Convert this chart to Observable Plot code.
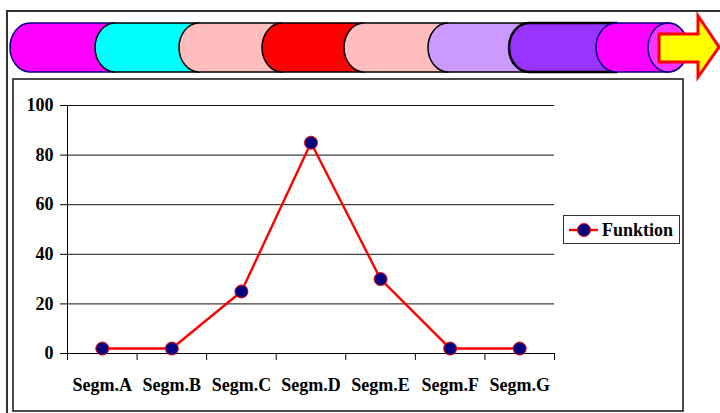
<!DOCTYPE html>
<html>
<head>
<meta charset="utf-8">
<script src="https://cdn.jsdelivr.net/npm/d3@7"></script>
<script src="https://cdn.jsdelivr.net/npm/@observablehq/plot@0.6"></script>
<style>
  html, body { margin: 0; padding: 0; background: #fff; }
  #chart svg { display: block; }
</style>
</head>
<body>
<div id="chart"></div>
<script>
const categories = ["Segm.A", "Segm.B", "Segm.C", "Segm.D", "Segm.E", "Segm.F", "Segm.G"];
const values = [2, 2, 25, 85, 30, 2, 2];
const seriesName = "Funktion";
const yTicks = [0, 20, 40, 60, 80, 100];
const bandColors = ["#FF00FF", "#00FFFF", "#FFBDBD", "#FF0000", "#FFBDBD", "#CC99FF", "#9933FF", "#FF00FF"];

const data = categories.map((c, i) => ({cat: c, idx: i + 0.5, value: values[i]}));
const font = "'Liberation Serif', 'Times New Roman', serif";

const plot = Plot.plot({
  width: 720,
  height: 413,
  marginTop: 105,
  marginBottom: 60,
  marginLeft: 67,
  marginRight: 166,
  style: {fontFamily: font, fontSize: "18px", fontWeight: "bold", background: "#fff", color: "#000"},
  x: {type: "linear", domain: [0, categories.length]},
  y: {domain: [0, 100]},
  marks: [
    Plot.gridY(yTicks.filter(d => d > 0), {stroke: "#111", strokeOpacity: 1, strokeWidth: 1}),
    Plot.ruleX([0], {stroke: "#000", strokeWidth: 1}),
    Plot.ruleY([0], {stroke: "#000", strokeWidth: 1}),
    Plot.axisY({ticks: yTicks, tickSize: 7, tickPadding: 7, fontSize: 18, fontWeight: "bold", label: null, stroke: "#000"}),
    Plot.axisX({ticks: d3.range(0, categories.length + 1), tickSize: 7, tickFormat: () => "", label: null, stroke: "#000"}),
    Plot.axisX({ticks: data.map(d => d.idx), tickSize: 0, tickPadding: 25, tickFormat: v => categories[Math.round(v - 0.5)], fontSize: 18, fontWeight: "bold", label: null}),
    Plot.lineY(data, {x: "idx", y: "value", stroke: "#FF0000", strokeWidth: 2.4}),
    Plot.dot(data, {x: "idx", y: "value", r: 6.5, fill: "#000080", stroke: "#FF0000", strokeWidth: 1})
  ]
});

document.getElementById("chart").appendChild(plot);

const svg = d3.select(plot);
const deco = svg.insert("g", ":first-child");

// frames
deco.append("rect").attr("x", 7).attr("y", 11).attr("width", 800).attr("height", 500)
  .attr("fill", "none").attr("stroke", "#333").attr("stroke-width", 2);
deco.append("rect").attr("x", 13).attr("y", 79).attr("width", 670).attr("height", 332)
  .attr("fill", "none").attr("stroke", "#111").attr("stroke-width", 1.5);

// cylinder band
const starts = [10, 95, 179, 262, 344, 428, 509, 596];
const bandTop = 23, bandBot = 72, rx = 20, ry = (bandBot - bandTop) / 2;
const strokes = ["#000080", "#000", "#000", "#000", "#000", "#000", "#000", "#000080"];
const swidths = [1.5, 1.5, 1.5, 1.5, 1.5, 1.5, 2.5, 1.5];
starts.forEach((s, i) => {
  const last = i === starts.length - 1;
  const end = last ? 668 : starts[i + 1] + rx;
  let p = `M${s + rx},${bandTop} L${end},${bandTop} `;
  if (last) p += `A${rx},${ry} 0 0 1 ${end},${bandBot} `;
  else p += `L${end},${bandBot} `;
  p += `L${s + rx},${bandBot} A${rx},${ry} 0 0 1 ${s + rx},${bandTop} Z`;
  deco.append("path").attr("d", p).attr("fill", bandColors[i])
    .attr("stroke", strokes[i]).attr("stroke-width", swidths[i]);
});
// end cap
deco.append("ellipse").attr("cx", 668).attr("cy", (bandTop + bandBot) / 2).attr("rx", rx).attr("ry", ry)
  .attr("fill", "#FF33FF").attr("stroke", "#000080").attr("stroke-width", 1.5);
// arrow
deco.append("path")
  .attr("d", "M659,34 L698,34 L698,16 L719,47 L698,77 L698,62 L659,62 Z")
  .attr("fill", "#FFFF00").attr("stroke", "#FF0000").attr("stroke-width", 3).attr("stroke-linejoin", "miter");

// legend
const lg = svg.append("g");
lg.append("rect").attr("x", 563.5).attr("y", 215.5).attr("width", 116).attr("height", 28)
  .attr("fill", "#fff").attr("stroke", "#333").attr("stroke-width", 1);
lg.append("line").attr("x1", 569).attr("x2", 598).attr("y1", 230).attr("y2", 230)
  .attr("stroke", "#FF0000").attr("stroke-width", 2.4);
lg.append("circle").attr("cx", 584).attr("cy", 230).attr("r", 6.5)
  .attr("fill", "#000080").attr("stroke", "#FF0000").attr("stroke-width", 1);
lg.append("text").attr("x", 602).attr("y", 230).attr("dy", "0.35em")
  .attr("text-anchor", "start")
  .attr("font-family", font).attr("font-size", 18).attr("font-weight", "bold")
  .attr("fill", "#000").text(seriesName);
</script>
</body>
</html>
